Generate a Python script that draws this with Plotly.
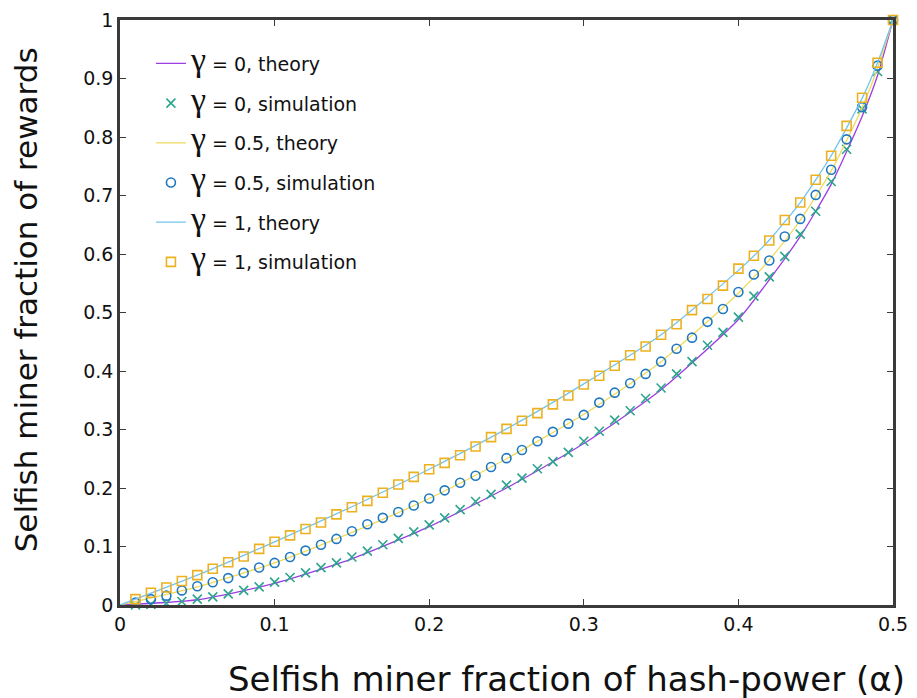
import plotly.graph_objects as go

# ---- data ----
alpha_sim = [round(0.01 * i, 2) for i in range(1, 51)]

sim_g0 = [0.000, 0.001, 0.003, 0.006, 0.010, 0.014, 0.019, 0.025, 0.031, 0.039,
          0.047, 0.055, 0.064, 0.072, 0.082, 0.092, 0.103, 0.114, 0.125, 0.137,
          0.149, 0.163, 0.177, 0.189, 0.205, 0.217, 0.233, 0.245, 0.261, 0.280,
          0.297, 0.316, 0.332, 0.353, 0.371, 0.395, 0.416, 0.444, 0.466, 0.492,
          0.528, 0.561, 0.596, 0.634, 0.673, 0.724, 0.779, 0.848, 0.912, 1.000]

sim_g05 = [0.004, 0.010, 0.016, 0.025, 0.032, 0.039, 0.046, 0.055, 0.064, 0.072,
           0.082, 0.093, 0.103, 0.113, 0.126, 0.138, 0.149, 0.159, 0.170, 0.182,
           0.196, 0.209, 0.221, 0.236, 0.251, 0.265, 0.280, 0.296, 0.310, 0.325,
           0.346, 0.363, 0.379, 0.395, 0.416, 0.438, 0.457, 0.484, 0.506, 0.535,
           0.565, 0.589, 0.630, 0.660, 0.701, 0.744, 0.796, 0.851, 0.922, 1.000]

sim_g1 = [0.010, 0.021, 0.030, 0.041, 0.051, 0.062, 0.073, 0.083, 0.096, 0.108,
          0.119, 0.130, 0.141, 0.155, 0.167, 0.178, 0.192, 0.206, 0.219, 0.232,
          0.243, 0.256, 0.271, 0.287, 0.301, 0.315, 0.328, 0.343, 0.358, 0.377,
          0.392, 0.409, 0.427, 0.442, 0.462, 0.480, 0.504, 0.523, 0.546, 0.575,
          0.597, 0.623, 0.658, 0.688, 0.727, 0.768, 0.819, 0.867, 0.927, 1.000]

alpha_th = [0.0, 0.05, 0.10, 0.15, 0.20, 0.25, 0.30, 0.35, 0.40, 0.42, 0.44, 0.46, 0.48, 0.49, 0.50]
th_g0 = [0.0, 0.009, 0.037, 0.079, 0.134, 0.200, 0.276, 0.368, 0.488, 0.556, 0.630, 0.719, 0.835, 0.905, 1.0]
th_g05 = [0.0, 0.031, 0.072, 0.124, 0.182, 0.250, 0.326, 0.416, 0.533, 0.590, 0.658, 0.742, 0.850, 0.918, 1.0]
th_g1 = [0.0, 0.051, 0.108, 0.168, 0.232, 0.301, 0.378, 0.462, 0.572, 0.624, 0.688, 0.768, 0.866, 0.927, 1.0]

x_ticks = [0, 0.1, 0.2, 0.3, 0.4, 0.5]
x_labels = ["0", "0.1", "0.2", "0.3", "0.4", "0.5"]
y_ticks = [0, 0.1, 0.2, 0.3, 0.4, 0.5, 0.6, 0.7, 0.8, 0.9, 1.0]
y_labels = ["0", "0.1", "0.2", "0.3", "0.4", "0.5", "0.6", "0.7", "0.8", "0.9", "1"]

x_title = "Selfish miner fraction of hash-power (\u03b1)"
y_title = "Selfish miner fraction of rewards"

# ---- styles ----
C_PURPLE = "#9b3de0"
C_GREEN = "#2ca58d"
C_YELLOW = "#f0da5a"
C_BLUE = "#1f78c1"
C_LBLUE = "#72c4ee"
C_ORANGE = "#edb120"


def gname(val, kind):
    return ("<span style='font-family:Liberation Serif;font-size:34px'>\u03b3</span>"
            f" = {val}, {kind}")


fig = go.Figure()
fig.add_trace(go.Scatter(x=alpha_th, y=th_g0, mode="lines", name=gname("0", "theory"),
                         legendgroup="a",
                         line=dict(color=C_PURPLE, width=1.3, shape="spline", smoothing=0.6),
                         cliponaxis=False))
fig.add_trace(go.Scatter(x=alpha_sim, y=sim_g0, mode="markers", name=gname("0", "simulation"),
                         legendgroup="b",
                         marker=dict(symbol="x-thin-open", size=9, color=C_GREEN,
                                     line=dict(color=C_GREEN, width=1.6)),
                         cliponaxis=False))
fig.add_trace(go.Scatter(x=alpha_th, y=th_g05, mode="lines", name=gname("0.5", "theory"),
                         legendgroup="c",
                         line=dict(color=C_YELLOW, width=1.3, shape="spline", smoothing=0.6),
                         cliponaxis=False))
fig.add_trace(go.Scatter(x=alpha_sim, y=sim_g05, mode="markers", name=gname("0.5", "simulation"),
                         legendgroup="d",
                         marker=dict(symbol="circle-open", size=9, color=C_BLUE,
                                     line=dict(color=C_BLUE, width=1.6)),
                         cliponaxis=False))
fig.add_trace(go.Scatter(x=alpha_th, y=th_g1, mode="lines", name=gname("1", "theory"),
                         legendgroup="e",
                         line=dict(color=C_LBLUE, width=1.3, shape="spline", smoothing=0.6),
                         cliponaxis=False))
fig.add_trace(go.Scatter(x=alpha_sim, y=sim_g1, mode="markers", name=gname("1", "simulation"),
                         legendgroup="f",
                         marker=dict(symbol="square-open", size=9, color=C_ORANGE,
                                     line=dict(color=C_ORANGE, width=1.6)),
                         cliponaxis=False))

axis_common = dict(showgrid=False, zeroline=False, showline=True, linecolor="#3a3a3a",
                   linewidth=2.5, mirror="allticks", ticks="inside", ticklen=6,
                   tickwidth=1.2, tickcolor="#3a3a3a",
                   tickfont=dict(family="DejaVu Sans", size=19, color="#111111"))

fig.update_layout(
    width=917, height=698,
    margin=dict(l=120, r=20, t=9, b=93),
    paper_bgcolor="white", plot_bgcolor="white",
    showlegend=True,
    legend=dict(x=0.04, y=0.958, xanchor="left", yanchor="top",
                bgcolor="rgba(0,0,0,0)", borderwidth=0,
                font=dict(family="DejaVu Sans", size=19, color="#111111"),
                itemwidth=30, tracegroupgap=12),
    xaxis=dict(range=[0, 0.5], tickvals=x_ticks, ticktext=x_labels, **axis_common),
    yaxis=dict(range=[0, 1], tickvals=y_ticks, ticktext=y_labels, **axis_common),
    annotations=[
        dict(text=x_title, xref="paper", yref="paper", x=0.578, y=-0.126,
             xanchor="center", yanchor="middle", showarrow=False,
             font=dict(family="DejaVu Sans", size=34, color="#111111")),
        dict(text=y_title, xref="paper", yref="paper", x=-0.122, y=0.522,
             xanchor="center", yanchor="middle", showarrow=False, textangle=-90,
             font=dict(family="DejaVu Sans", size=31, color="#111111")),
    ],
)

fig.write_html("out.html")
